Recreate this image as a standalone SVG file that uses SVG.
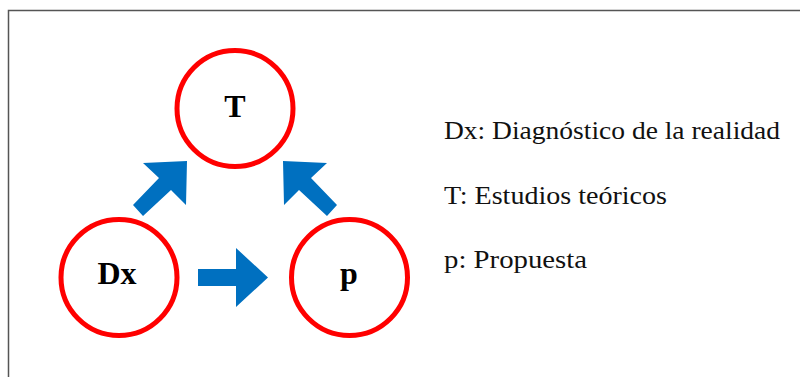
<svg xmlns="http://www.w3.org/2000/svg" width="800" height="377" viewBox="0 0 800 377">
<style>
.node{fill:none;stroke:#FF0000;stroke-width:5}
.lbl{font-family:"Liberation Serif",serif;font-weight:bold;font-size:32px;fill:#000;text-anchor:middle}
.leg{font-family:"Liberation Serif",serif;font-size:25px;fill:#111}
.arr{fill:#0070C0}
</style>
<rect x="8.5" y="10.5" width="800" height="400" fill="#fff" stroke="#555" stroke-width="1.5"/>
<g id="node-T"><circle class="node" cx="235" cy="108.5" r="58"/><text class="lbl" x="235" y="117">T</text></g>
<g id="node-Dx"><circle class="node" cx="119" cy="277.5" r="58"/><text class="lbl" x="117" y="284">Dx</text></g>
<g id="node-p"><circle class="node" cx="349.5" cy="277.5" r="58"/><text class="lbl" x="349" y="284">p</text></g>
<g id="connectors">
<polygon class="arr" points="133,205 159,178 143,163 187,161 186,205 171,190 143,216"/>
<polygon class="arr" points="337,205 311,178 327,163 283,161 284,205 299,190 327,216"/>
<polygon class="arr" points="198,269 236,269 236,248 268,277.5 236,307 236,286 198,286"/>
</g>
<g id="legend">
<text class="leg" x="444" y="139" textLength="336" lengthAdjust="spacingAndGlyphs">Dx: Diagnóstico de la realidad</text>
<text class="leg" x="444" y="203.5" textLength="223" lengthAdjust="spacingAndGlyphs">T: Estudios teóricos</text>
<text class="leg" x="444" y="268" textLength="143" lengthAdjust="spacingAndGlyphs">p: Propuesta</text>
</g>
</svg>
